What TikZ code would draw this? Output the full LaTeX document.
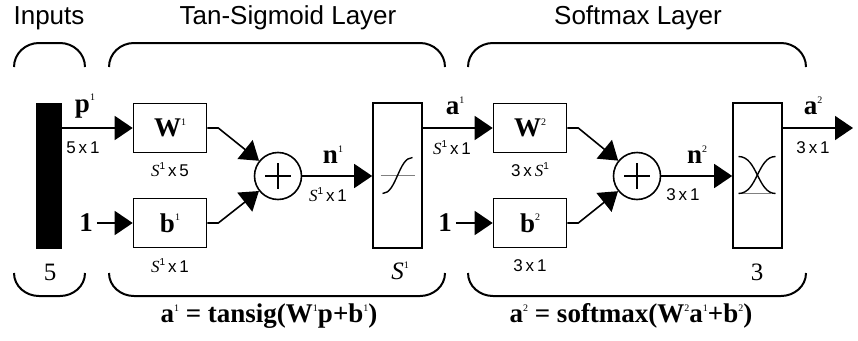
\documentclass[tikz,border=0pt]{standalone}
\usepackage{fontspec}
\setmainfont{Liberation Serif}
\setsansfont{Liberation Sans}
\usetikzlibrary{arrows.meta,positioning,calc}
\newcommand{\hisup}[1]{\raisebox{0.42em}{\fontsize{10}{10}\selectfont\mdseries\upshape #1}}
\newcommand{\Svar}{{\rmfamily\itshape S}}

\begin{document}
\begin{tikzpicture}[x=1pt, y=-1pt,
  ttl/.style={font=\sffamily\fontsize{26}{30}\selectfont, inner sep=0pt},
  dim/.style={font=\sffamily\fontsize{17}{20}\selectfont, inner sep=0pt},
  var/.style={font=\bfseries\fontsize{27}{30}\selectfont, inner sep=0pt},
  eqn/.style={font=\bfseries\fontsize{27}{30}\selectfont, inner sep=0pt},
  num/.style={font=\fontsize{25}{28}\selectfont, inner sep=0pt},
  blk/.style={draw, line width=1.6pt, minimum width=73pt, minimum height=49pt, inner sep=0pt,
    font=\bfseries\fontsize{27}{30}\selectfont},
  tfbox/.style={draw, line width=1.6pt, minimum width=49pt, minimum height=145pt, inner sep=0pt},
  sumnode/.style={draw, circle, line width=1.6pt, minimum size=47pt, inner sep=0pt},
  sig/.style={line width=1.6pt, -{Triangle[length=18pt,width=24pt]}},
  brace/.style={line width=2pt}]
  \useasboundingbox (0,0) rectangle (858,340);
  % titles
  \node[ttl] (tin) at (49,18)  {Inputs};
  \node[ttl] (tl1) at (288,18) {Tan-Sigmoid Layer};
  \node[ttl] (tl2) at (638,18) {Softmax Layer};
  % brackets
  \draw[brace] (14,67) to[out=90,in=180] (39,43) -- (60,43) to[out=0,in=90] (85,67);
  \draw[brace] (14,273) to[out=-90,in=180] (39,296) -- (60,296) to[out=0,in=-90] (85,273);
  \draw[brace] (109,67) to[out=90,in=180] (134,43) -- (420,43) to[out=0,in=90] (445,67);
  \draw[brace] (109,273) to[out=-90,in=180] (134,296) -- (420,296) to[out=0,in=-90] (445,273);
  \draw[brace] (468,67) to[out=90,in=180] (493,43) -- (781,43) to[out=0,in=90] (806,67);
  \draw[brace] (468,273) to[out=-90,in=180] (493,296) -- (781,296) to[out=0,in=-90] (806,273);
  % input
  \node[fill=black, minimum width=26pt, minimum height=146pt, inner sep=0pt] (in) at (49,176) {};
  \node[num] (nin) at (50,272) {5};
  % layer 1
  \node[blk] (W1) at (170,128) {W\hisup{1}};
  \node[blk] (b1) at (170,223) {b\hisup{1}};
  \node[sumnode] (sum1) at (278,176) {};
  \node[tfbox] (tf1) at (397.5,175.5) {};
  \node[var] (one1) at (86,223) {1};
  \node[num] (ntf1) at (400,271) {\itshape S\hisup{1}};
  % layer 2
  \node[blk] (W2) at (530,128) {W\hisup{2}};
  \node[blk] (b2) at (530,223) {b\hisup{2}};
  \node[sumnode] (sum2) at (637,176) {};
  \node[tfbox] (tf2) at (757.5,175.5) {};
  \node[var] (one2) at (445,223) {1};
  \node[num] (ntf2) at (757,272) {3};
  \coordinate (out) at (853,128);
  % plus signs
  \foreach \s in {sum1,sum2}
    \draw[line width=1.6pt] ($(\s)+(-13,0)$) -- ($(\s)+(13,0)$) ($(\s)+(0,-13)$) -- ($(\s)+(0,13)$);
  % transfer functions
  \draw[gray, line width=1.2pt] ($(tf1)+(-17,0)$) -- ($(tf1)+(17,0)$);
  \draw[line width=1.4pt] ($(tf1)+(-15,18)$) .. controls ($(tf1)+(-1,18)$) and ($(tf1)+(1,-18)$) .. ($(tf1)+(15,-18)$);
  \draw[gray, line width=1.2pt] ($(tf2)+(-17,18)$) -- ($(tf2)+(13,18)$);
  \draw[line width=1.4pt] ($(tf2)+(-19,18)$) .. controls ($(tf2)+(0,18)$) and ($(tf2)+(0,-19)$) .. ($(tf2)+(18,-19)$);
  \draw[line width=1.4pt] ($(tf2)+(-19,-19)$) .. controls ($(tf2)+(0,-19)$) and ($(tf2)+(0,18)$) .. ($(tf2)+(18,18)$);
  % connectors
  \draw[sig] (in.east |- W1.west) -- (W1.west);
  \draw[sig] (one1.east) ++(4,0) -- (b1.west);
  \draw[sig] (W1.east) -- ++(11,0) -- (sum1);
  \draw[sig] (b1.east) -- ++(11,0) -- (sum1);
  \draw[sig] (sum1.east) -- (sum1.east -| tf1.west);
  \draw[sig] (tf1.east |- W2.west) -- (W2.west);
  \draw[sig] (one2.east) ++(4,0) -- (b2.west);
  \draw[sig] (W2.east) -- ++(11,0) -- (sum2);
  \draw[sig] (b2.east) -- ++(11,0) -- (sum2);
  \draw[sig] (sum2.east) -- (sum2.east -| tf2.west);
  \draw[sig] (tf2.east |- out) -- (out);
  % signal labels
  \node[var] (lp)  at (85,106)  {p\hisup{1}};
  \node[dim] (dp)  at (83,148)  {5\,x\,1};
  \node[dim] (dW1) at (170,170) {\Svar\hisup{1}\,x\,5};
  \node[dim] (db1) at (170,266) {\Svar\hisup{1}\,x\,1};
  \node[var] (ln1) at (333,155) {n\hisup{1}};
  \node[dim] (dn1) at (328,195) {\Svar\hisup{1}\,x\,1};
  \node[var] (la1) at (455,106) {a\hisup{1}};
  \node[dim] (da1) at (452,148) {\Svar\hisup{1}\,x\,1};
  \node[dim] (dW2) at (530,170) {3\,x\,\Svar\hisup{1}};
  \node[dim] (db2) at (530,266) {3\,x\,1};
  \node[var] (ln2) at (697,155) {n\hisup{2}};
  \node[dim] (dn2) at (683,195) {3\,x\,1};
  \node[var] (la2) at (813,106) {a\hisup{2}};
  \node[dim] (da2) at (813,148) {3\,x\,1};
  % equations
  \node[eqn] (eq1) at (269,316) {a\hisup{1} = tansig(W\hisup{1}p+b\hisup{1})};
  \node[eqn] (eq2) at (631,316) {a\hisup{2} = softmax(W\hisup{2}a\hisup{1}+b\hisup{2})};
\end{tikzpicture}
\end{document}
